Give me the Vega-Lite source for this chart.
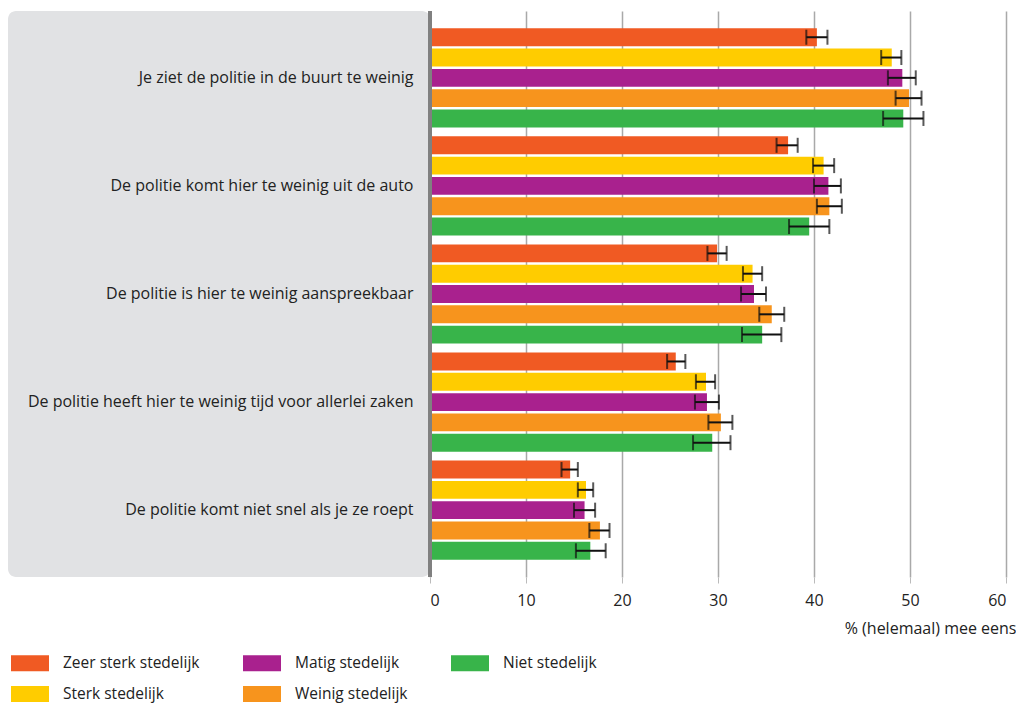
{
  "$schema": "https://vega.github.io/schema/vega-lite/v6.json",
  "padding": {"left": 8, "top": 9, "right": 0, "bottom": 0},
  "background": "white",
  "bounds": "flush",
  "config": {"view": {"stroke": null}, "font": "Open Sans", "concat": {"spacing": 0}},
  "data": {"values": [
    {"categorie": "Je ziet de politie in de buurt te weinig", "groep": "Zeer sterk stedelijk", "waarde": 40.3, "lo": 39.2, "hi": 41.4},
    {"categorie": "Je ziet de politie in de buurt te weinig", "groep": "Sterk stedelijk", "waarde": 48.1, "lo": 47.0, "hi": 49.1},
    {"categorie": "Je ziet de politie in de buurt te weinig", "groep": "Matig stedelijk", "waarde": 49.2, "lo": 47.7, "hi": 50.6},
    {"categorie": "Je ziet de politie in de buurt te weinig", "groep": "Weinig stedelijk", "waarde": 49.9, "lo": 48.5, "hi": 51.2},
    {"categorie": "Je ziet de politie in de buurt te weinig", "groep": "Niet stedelijk", "waarde": 49.3, "lo": 47.2, "hi": 51.4},
    {"categorie": "De politie komt hier te weinig uit de auto", "groep": "Zeer sterk stedelijk", "waarde": 37.3, "lo": 36.1, "hi": 38.3},
    {"categorie": "De politie komt hier te weinig uit de auto", "groep": "Sterk stedelijk", "waarde": 41.0, "lo": 39.9, "hi": 42.1},
    {"categorie": "De politie komt hier te weinig uit de auto", "groep": "Matig stedelijk", "waarde": 41.5, "lo": 40.0, "hi": 42.8},
    {"categorie": "De politie komt hier te weinig uit de auto", "groep": "Weinig stedelijk", "waarde": 41.6, "lo": 40.3, "hi": 42.9},
    {"categorie": "De politie komt hier te weinig uit de auto", "groep": "Niet stedelijk", "waarde": 39.5, "lo": 37.4, "hi": 41.6},
    {"categorie": "De politie is hier te weinig aanspreekbaar", "groep": "Zeer sterk stedelijk", "waarde": 29.9, "lo": 28.9, "hi": 30.9},
    {"categorie": "De politie is hier te weinig aanspreekbaar", "groep": "Sterk stedelijk", "waarde": 33.6, "lo": 32.6, "hi": 34.6},
    {"categorie": "De politie is hier te weinig aanspreekbaar", "groep": "Matig stedelijk", "waarde": 33.75, "lo": 32.4, "hi": 35.0},
    {"categorie": "De politie is hier te weinig aanspreekbaar", "groep": "Weinig stedelijk", "waarde": 35.6, "lo": 34.3, "hi": 36.9},
    {"categorie": "De politie is hier te weinig aanspreekbaar", "groep": "Niet stedelijk", "waarde": 34.6, "lo": 32.5, "hi": 36.6},
    {"categorie": "De politie heeft hier te weinig tijd voor allerlei zaken", "groep": "Zeer sterk stedelijk", "waarde": 25.6, "lo": 24.7, "hi": 26.6},
    {"categorie": "De politie heeft hier te weinig tijd voor allerlei zaken", "groep": "Sterk stedelijk", "waarde": 28.75, "lo": 27.7, "hi": 29.7},
    {"categorie": "De politie heeft hier te weinig tijd voor allerlei zaken", "groep": "Matig stedelijk", "waarde": 28.85, "lo": 27.6, "hi": 30.1},
    {"categorie": "De politie heeft hier te weinig tijd voor allerlei zaken", "groep": "Weinig stedelijk", "waarde": 30.3, "lo": 29.0, "hi": 31.5},
    {"categorie": "De politie heeft hier te weinig tijd voor allerlei zaken", "groep": "Niet stedelijk", "waarde": 29.4, "lo": 27.4, "hi": 31.3},
    {"categorie": "De politie komt niet snel als je ze roept", "groep": "Zeer sterk stedelijk", "waarde": 14.6, "lo": 13.7, "hi": 15.4},
    {"categorie": "De politie komt niet snel als je ze roept", "groep": "Sterk stedelijk", "waarde": 16.25, "lo": 15.4, "hi": 17.0},
    {"categorie": "De politie komt niet snel als je ze roept", "groep": "Matig stedelijk", "waarde": 16.1, "lo": 15.0, "hi": 17.2},
    {"categorie": "De politie komt niet snel als je ze roept", "groep": "Weinig stedelijk", "waarde": 17.7, "lo": 16.6, "hi": 18.7},
    {"categorie": "De politie komt niet snel als je ze roept", "groep": "Niet stedelijk", "waarde": 16.7, "lo": 15.2, "hi": 18.3}
  ]},
  "hconcat": [
    {
      "width": 422,
      "height": 566,
      "view": {"fill": "#e1e2e4", "cornerRadius": 8, "stroke": null},
      "mark": {"type": "point", "opacity": 0},
      "encoding": {
        "y": {
          "field": "categorie", "type": "nominal", "sort": null,
          "scale": {"type": "band", "paddingInner": 0.083, "paddingOuter": 0.16},
          "axis": {"orient": "right", "title": null, "domain": false, "ticks": false,
                   "labelAlign": "right", "labelPadding": -17, "labelFontSize": 16,
                   "labelColor": "#222222", "labelLimit": 0}
        }
      }
    },
    {
      "width": 576,
      "height": 566,
      "encoding": {
        "y": {"field": "categorie", "type": "nominal", "sort": null,
              "scale": {"type": "band", "paddingInner": 0.083, "paddingOuter": 0.16}, "axis": null},
        "yOffset": {"field": "groep", "type": "nominal",
                    "sort": ["Zeer sterk stedelijk", "Sterk stedelijk", "Matig stedelijk", "Weinig stedelijk", "Niet stedelijk"],
                    "scale": {"paddingInner": 0.12, "paddingOuter": 0}}
      },
      "layer": [
        {
          "mark": {"type": "bar"},
          "encoding": {
            "x": {"field": "waarde", "type": "quantitative",
                  "scale": {"domain": [0, 60], "nice": false},
                  "axis": {"values": [0, 10, 20, 30, 40, 50, 60], "grid": true, "gridColor": "#a9a9a9", "gridWidth": 1.5,
                           "domain": false, "tickColor": "#bbbbbb", "tickSize": 6, "tickWidth": 1,
                           "labelFontSize": 16, "labelPadding": 9, "labelColor": "#222222",
                           "title": "% (helemaal) mee eens", "titleAnchor": "end", "titleAlign": "right", "titleX": 586,
                           "titleFontWeight": "normal", "titleFontSize": 16, "titleColor": "#222222", "titlePadding": 12}},
            "color": {"field": "groep", "type": "nominal",
                      "scale": {"domain": ["Zeer sterk stedelijk", "Sterk stedelijk", "Matig stedelijk", "Weinig stedelijk", "Niet stedelijk"],
                                "range": ["#f05a23", "#ffcc00", "#a9218e", "#f7941d", "#38b44a"]},
                      "legend": {"orient": "none", "legendX": 3, "legendY": 633, "columns": 3, "columnPadding": 43,
                                 "rowPadding": 3, "title": null, "symbolType": "M-1,-0.42H1V0.42H-1Z", "symbolSize": 1444,
                                 "symbolStrokeWidth": 0, "symbolOpacity": 1, "labelFontSize": 15.5, "labelOffset": 14,
                                 "labelColor": "#222222", "labelLimit": 0}}
          }
        },
        {
          "mark": {"type": "rule", "color": "#111111", "strokeWidth": 2},
          "encoding": {"x": {"field": "lo", "type": "quantitative"}, "x2": {"field": "hi"}}
        },
        {
          "mark": {"type": "tick", "color": "#111111", "thickness": 2, "size": 15, "orient": "vertical"},
          "encoding": {"x": {"field": "lo", "type": "quantitative"}}
        },
        {
          "mark": {"type": "tick", "color": "#111111", "thickness": 2, "size": 15, "orient": "vertical"},
          "encoding": {"x": {"field": "hi", "type": "quantitative"}}
        },
        {
          "mark": {"type": "rule", "color": "#808080", "strokeWidth": 4},
          "encoding": {"x": {"datum": 0}, "y": null, "yOffset": null}
        }
      ]
    }
  ]
}
